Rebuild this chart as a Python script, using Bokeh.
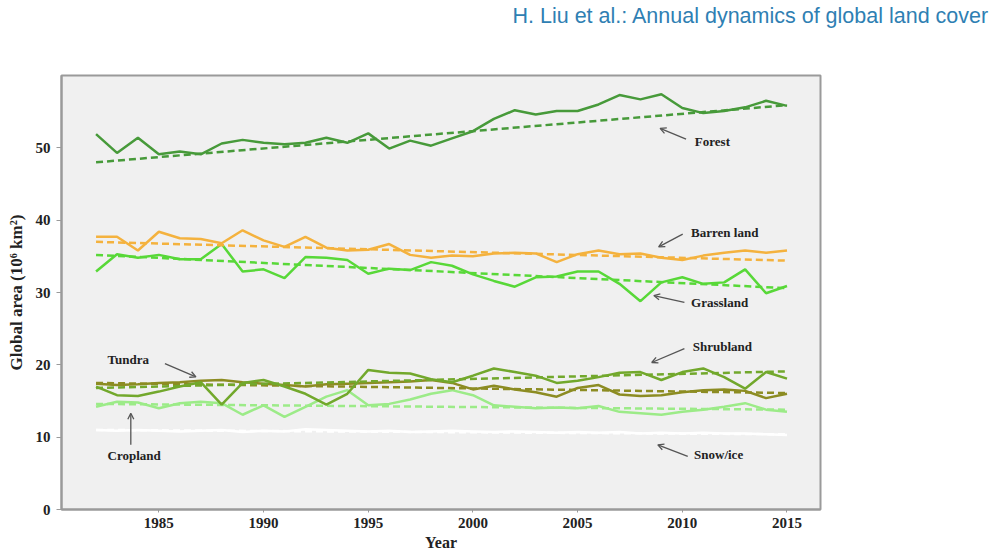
from bokeh.plotting import figure
from bokeh.models import Label, Arrow, OpenHead, Range1d, FixedTicker, Title
from bokeh.embed import file_html
from bokeh.resources import INLINE

years = list(range(1982, 2016))
forest = [51.9, 49.3, 51.4, 49.1, 49.5, 49.1, 50.6, 51.1, 50.7, 50.5, 50.7, 51.4, 50.7, 52.0, 49.9, 51.0, 50.3, 51.3,
          52.3, 54.0, 55.2, 54.6, 55.1, 55.1, 56.0, 57.3, 56.7, 57.4, 55.5, 54.8, 55.1, 55.6, 56.5, 55.8]
barren = [37.7, 37.7, 35.8, 38.4, 37.5, 37.4, 36.8, 38.6, 37.2, 36.3, 37.7, 36.2, 35.8, 35.9, 36.7, 35.2, 34.8, 35.1,
          35.0, 35.4, 35.5, 35.4, 34.2, 35.3, 35.8, 35.3, 35.4, 34.8, 34.5, 35.1, 35.5, 35.8, 35.5, 35.8]
grass = [32.9, 35.3, 34.8, 35.2, 34.6, 34.6, 36.7, 32.9, 33.2, 32.0, 34.9, 34.8, 34.5, 32.6, 33.3, 33.1, 34.2, 33.7,
         32.5, 31.6, 30.8, 32.1, 32.2, 32.9, 32.9, 31.2, 28.8, 31.4, 32.1, 31.2, 31.4, 33.2, 29.9, 30.9]
shrub = [17.0, 15.8, 15.7, 16.3, 17.0, 17.6, 14.5, 17.5, 17.9, 17.0, 16.0, 14.5, 16.0, 19.3, 18.9, 18.8, 18.0, 17.6,
         18.5, 19.5, 19.0, 18.5, 17.5, 17.8, 18.3, 18.9, 19.0, 17.9, 19.0, 19.5, 18.3, 16.7, 19.0, 18.1]
tundra = [17.4, 17.2, 17.3, 17.5, 17.6, 17.8, 17.9, 17.6, 17.4, 17.2, 17.0, 17.3, 17.4, 17.5, 17.6, 17.7, 17.9, 17.5,
          16.6, 17.1, 16.6, 16.2, 15.6, 16.8, 17.2, 15.9, 15.7, 15.8, 16.2, 16.5, 16.6, 16.4, 15.4, 16.0]
crop = [14.2, 14.9, 14.8, 14.0, 14.7, 14.9, 14.7, 13.1, 14.4, 12.8, 14.2, 15.6, 16.5, 14.4, 14.6, 15.2, 16.0, 16.5,
        15.8, 14.4, 14.2, 14.0, 14.1, 14.0, 14.3, 13.5, 13.3, 13.1, 13.5, 13.8, 14.2, 14.7, 13.8, 13.5]
snow = [11.0, 10.9, 11.0, 10.9, 10.8, 10.9, 11.0, 10.7, 10.9, 10.8, 11.1, 11.0, 10.9, 10.8, 10.9, 10.7, 10.8, 10.9,
        10.8, 10.7, 10.8, 10.7, 10.6, 10.7, 10.6, 10.7, 10.5, 10.6, 10.5, 10.6, 10.5, 10.5, 10.4, 10.3]

trend_years = [1982, 2015]
forest_trend = [48.0, 55.9]
barren_trend = [37.0, 34.4]
grass_trend = [35.2, 30.6]
shrub_trend = [16.8, 19.1]
tundra_trend = [17.5, 16.1]
crop_trend = [14.6, 13.8]
snow_trend = [11.0, 10.4]

x_ticks = [1985, 1990, 1995, 2000, 2005, 2010, 2015]
y_ticks = [0, 10, 20, 30, 40, 50]

colors = {
    "snow": "#ffffff",
    "crop": "#9ceb88",
    "tundra": "#8c8c22",
    "shrub": "#72a82c",
    "grass": "#58d838",
    "barren": "#f4b23e",
    "forest": "#479a3a",
}

p = figure(width=991, height=553, x_range=Range1d(1980.35, 2016.6), y_range=Range1d(0, 60),
           output_backend="svg", toolbar_location=None,
           min_border_left=61, min_border_right=171, min_border_top=75, min_border_bottom=43)
p.background_fill_color = "#f0f0f0"
p.border_fill_color = "#ffffff"
p.outline_line_color = "#9a9a9a"
p.outline_line_width = 2
p.xgrid.visible = False
p.ygrid.visible = False

spacer = Title(text=" ", text_font_size="1px", standoff=45)
p.add_layout(spacer, "above")
header = Title(text="H. Liu et al.: Annual dynamics of global land cover", align="left", offset=451,
               standoff=0, text_font="Liberation Sans", text_font_size="21.5px",
               text_font_style="normal", text_color="#2f7fb3")
p.add_layout(header, "above")

for ax in (p.xaxis, p.yaxis):
    ax.axis_line_color = "#9a9a9a"
    ax.axis_line_width = 2
    ax.major_tick_line_color = "#9a9a9a"
    ax.major_tick_in = 0
    ax.minor_tick_line_color = None
    ax.major_label_text_font = "Liberation Serif"
    ax.major_label_text_font_style = "bold"
    ax.major_label_text_font_size = "15px"
    ax.major_label_text_color = "#222222"
    ax.axis_label_text_font = "Liberation Serif"
    ax.axis_label_text_font_style = "bold"
    ax.axis_label_text_color = "#222222"
p.xaxis.ticker = FixedTicker(ticks=x_ticks)
p.yaxis.ticker = FixedTicker(ticks=y_ticks)
p.xaxis.major_tick_out = 3
p.yaxis.major_tick_out = 5
p.xaxis.major_label_standoff = 5
p.yaxis.major_label_standoff = 6
p.xaxis.axis_label = "Year"
p.xaxis.axis_label_text_font_size = "16px"
p.xaxis.axis_label_standoff = 3
p.yaxis.axis_label = "Global area (10\u2076 km\u00b2)"
p.yaxis.axis_label_text_font_size = "17px"
p.yaxis.axis_label_standoff = 7

series = [("snow", snow, snow_trend), ("crop", crop, crop_trend), ("tundra", tundra, tundra_trend),
          ("shrub", shrub, shrub_trend), ("grass", grass, grass_trend), ("barren", barren, barren_trend),
          ("forest", forest, forest_trend)]
for name, vals, tr in series:
    c = colors[name]
    p.line(years, vals, line_color=c, line_width=2.5)
    p.line(trend_years, tr, line_color=c, line_width=2.5, line_dash="7 4")

ann_font = dict(text_font="Liberation Serif", text_font_style="bold", text_font_size="13px",
                text_color="#222222", text_baseline="middle", text_align="left")
labels = [("Forest", 2010.6, 50.9), ("Barren land", 2010.42, 38.28), ("Grassland", 2010.42, 28.65),
          ("Shrubland", 2010.5, 22.56), ("Snow/ice", 2010.56, 7.57), ("Tundra", 1982.55, 20.73),
          ("Cropland", 1982.55, 7.43)]
for t, x, y in labels:
    p.add_layout(Label(x=x, y=y, text=t, **ann_font))

arrows = [(2010.18, 51.2, 2008.94, 52.7), (2010.02, 38.06, 2008.87, 36.31), (2010.1, 28.65, 2008.64, 29.57),
          (2010.1, 22.24, 2008.54, 20.32), (2010.26, 7.33, 2008.83, 8.94), (1985.29, 20.18, 1986.77, 18.34),
          (1983.66, 8.94, 1983.66, 13.3)]
for xs, ys, xe, ye in arrows:
    p.add_layout(Arrow(x_start=xs, y_start=ys, x_end=xe, y_end=ye, line_color="#555555", line_width=1.3,
                       end=OpenHead(size=6, line_color="#555555", line_width=1.3)))

open("out.html", "w").write(file_html(p, INLINE))
